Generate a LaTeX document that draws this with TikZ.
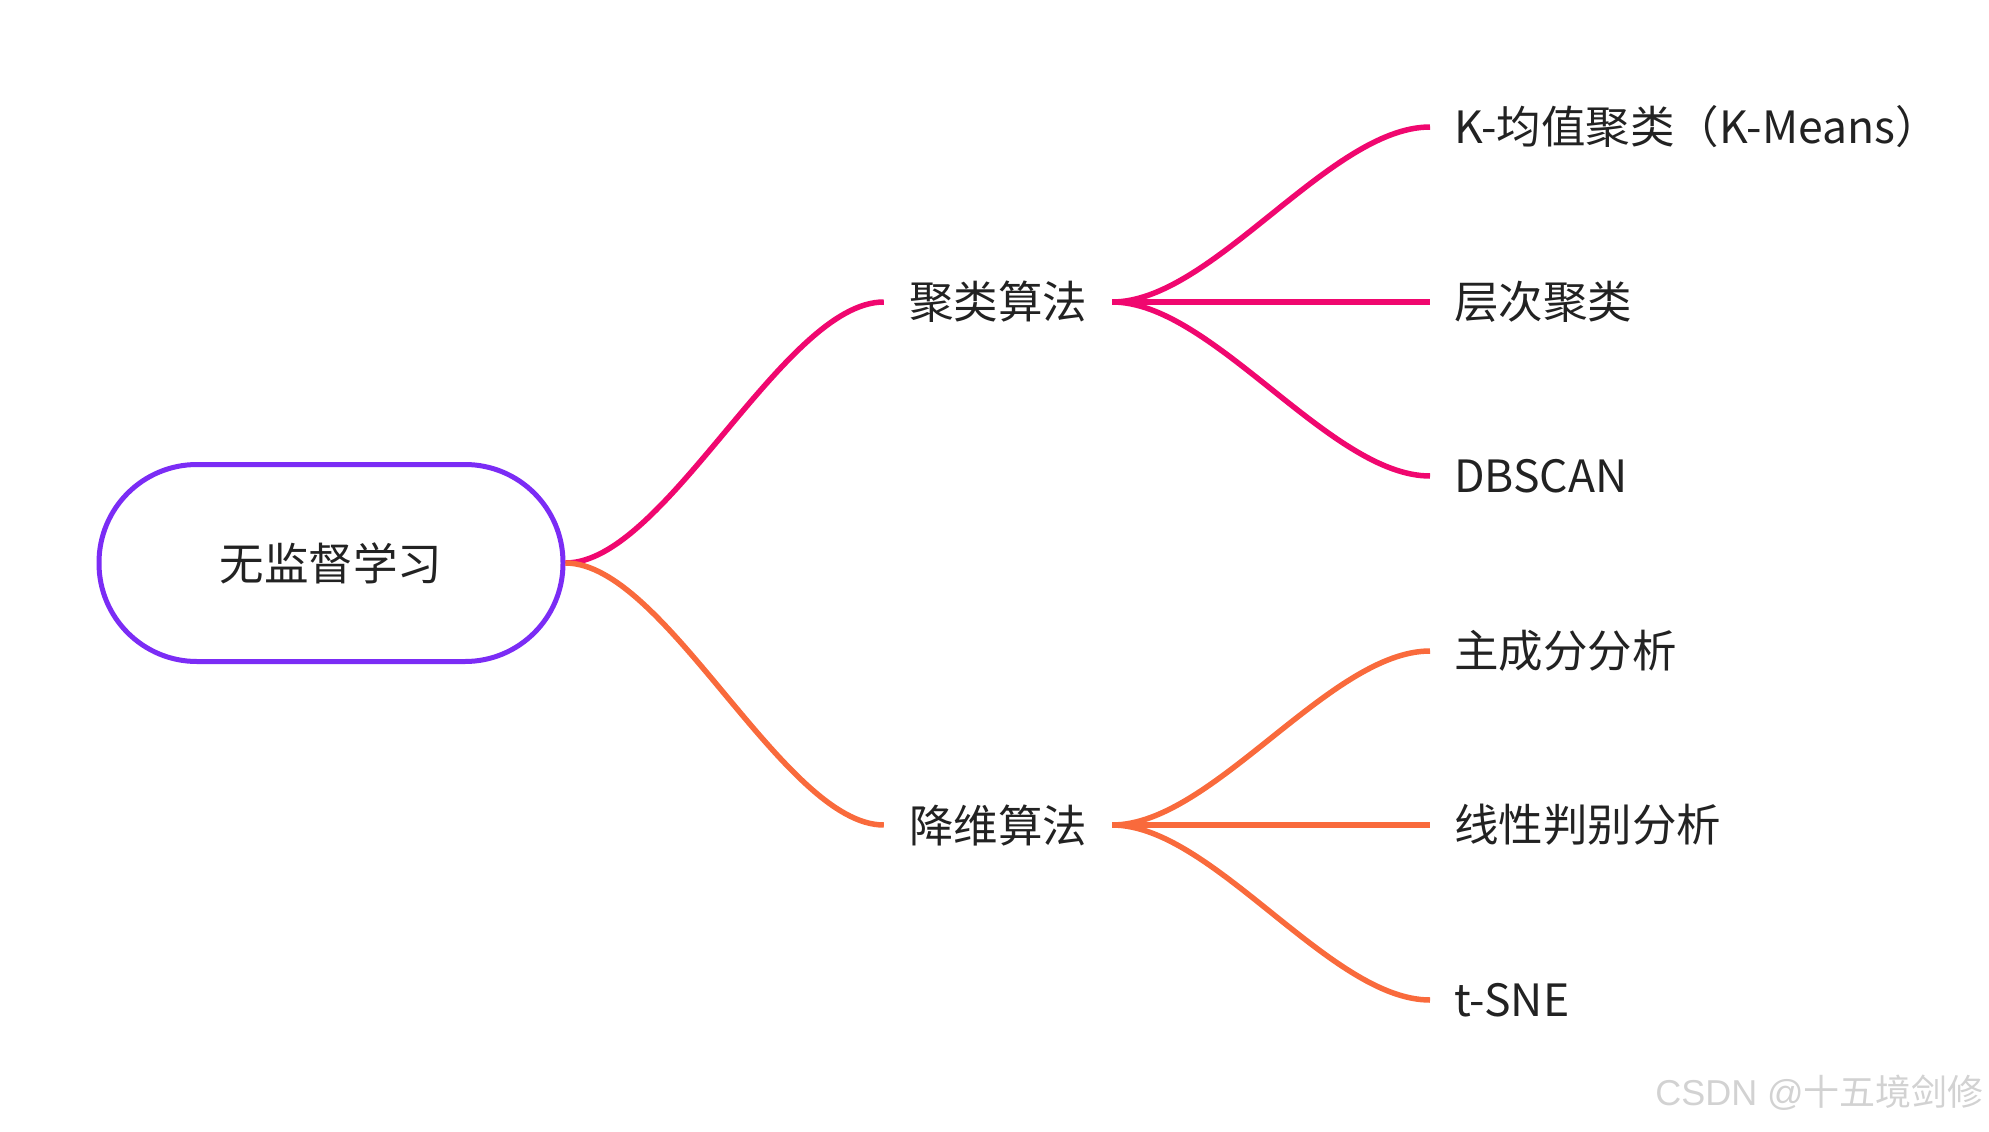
\documentclass[tikz,border=0pt]{standalone}
\usepackage{fontspec}
\setmainfont{Noto Sans CJK SC}
\newfontfamily\wmfont{Liberation Sans}
\usetikzlibrary{positioning}
\definecolor{rootpurple}{HTML}{7B2CF5}
\definecolor{clupink}{HTML}{F0076F}
\definecolor{redorange}{HTML}{F96A3C}
\definecolor{inkgray}{HTML}{222222}
\definecolor{wmgray}{HTML}{D2D2D2}

\begin{document}
\begin{tikzpicture}[x=1pt,y=-1pt,
  every node/.style={text=inkgray, font=\fontsize{44.5}{53}\selectfont},
  rootbox/.style={draw=rootpurple, line width=5pt, fill=white,
    minimum width=464pt, minimum height=197pt, rounded corners=98pt},
  branch/.style={inner xsep=0pt, minimum width=228pt},
  leaf/.style={anchor=west, inner xsep=24pt},
  link/.style={line width=5.5pt},
  wmark/.style={text=wmgray, font=\fontsize{36}{42}\selectfont, inner sep=0pt}
]
  \useasboundingbox (0,0) rectangle (1989,1132);
  % centre topic and the two branches
  \node[rootbox] (root) at (331,563) {无监督学习};
  \node[branch] (clu) at (998,302) {聚类算法};
  \node[branch] (dim) at (998,825) {降维算法};
  \draw[link, clupink] (root.east) .. controls +(100,0) and +(-100,0) .. (clu.west);
  \draw[link, redorange] (root.east) .. controls +(100,0) and +(-100,0) .. (dim.west);
  % leaves of each branch
  \foreach \nm/\y/\txt in {km/127/{K-均值聚类（K-Means）}, hc/302/层次聚类, db/476/DBSCAN}{
    \node[leaf] (\nm) at (1430,\y) {\txt};
    \draw[link, clupink] (clu.east) .. controls +(100,0) and +(-100,0) .. (\nm.west);
  }
  \foreach \nm/\y/\txt in {pca/651/主成分分析, lda/825/线性判别分析, tsne/1000/t-SNE}{
    \node[leaf] (\nm) at (1430,\y) {\txt};
    \draw[link, redorange] (dim.east) .. controls +(100,0) and +(-100,0) .. (\nm.west);
  }
  \node[wmark, anchor=south east] (wm) at (1984,1111) {{\wmfont CSDN @}十五境剑修};
\end{tikzpicture}
\end{document}
